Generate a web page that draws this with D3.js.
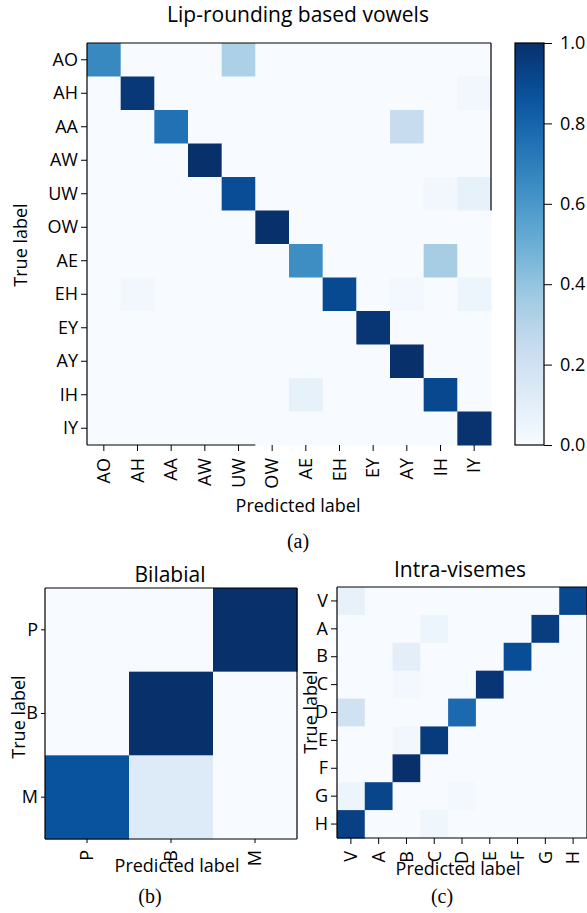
<!DOCTYPE html>
<html>
<head>
<meta charset="utf-8">
<script src="https://cdn.jsdelivr.net/npm/d3@7"></script>
<style>
  body { margin: 0; background: #fff; }
  text { font-family: "Open Sans", sans-serif; fill: #000; }
  .cap { font-family: "Liberation Serif", serif; }
</style>
</head>
<body>
<svg id="fig" width="587" height="913"></svg>
<script>
// ---- data ----
const vowelLabels = ["AO", "AH", "AA", "AW", "UW", "OW", "AE", "EH", "EY", "AY", "IH", "IY"];
// rows = true label, columns = predicted label
const vowelMatrix = [
  [0.66, 0, 0, 0, 0.33, 0, 0, 0, 0, 0, 0, 0],
  [0, 0.97, 0, 0, 0, 0, 0, 0, 0, 0, 0, 0.03],
  [0, 0, 0.75, 0, 0, 0, 0, 0, 0, 0.24, 0, 0],
  [0, 0, 0, 1.0, 0, 0, 0, 0, 0, 0, 0, 0],
  [0, 0, 0, 0, 0.89, 0, 0, 0, 0, 0, 0.03, 0.08],
  [0, 0, 0, 0, 0, 1.0, 0, 0, 0, 0, 0, 0],
  [0, 0, 0, 0, 0, 0, 0.64, 0, 0, 0, 0.35, 0],
  [0, 0.03, 0, 0, 0, 0, 0, 0.9, 0, 0.02, 0, 0.05],
  [0, 0, 0, 0, 0, 0, 0, 0, 0.98, 0, 0, 0],
  [0, 0, 0, 0, 0, 0, 0, 0, 0, 1.0, 0, 0],
  [0, 0, 0, 0, 0, 0, 0.08, 0, 0, 0, 0.91, 0],
  [0, 0, 0, 0, 0, 0, 0, 0, 0, 0, 0, 0.99]
];

const bilabialLabels = ["P", "B", "M"];
const bilabialMatrix = [
  [0, 0, 1.0],
  [0, 1.0, 0],
  [0.87, 0.13, 0]
];

const visemeLabels = ["V", "A", "B", "C", "D", "E", "F", "G", "H"];
const visemeMatrix = [
  [0.08, 0, 0, 0, 0, 0, 0, 0, 0.91],
  [0, 0, 0, 0.05, 0, 0, 0, 0.95, 0],
  [0, 0, 0.1, 0, 0, 0, 0.89, 0, 0],
  [0, 0, 0.02, 0, 0, 0.98, 0, 0, 0],
  [0.2, 0, 0, 0, 0.78, 0, 0, 0, 0],
  [0, 0, 0.03, 0.96, 0, 0, 0, 0, 0],
  [0, 0, 1.0, 0, 0, 0, 0, 0, 0],
  [0.05, 0.92, 0, 0, 0.02, 0, 0, 0, 0],
  [0.94, 0, 0, 0.04, 0, 0, 0, 0, 0]
];

const colorTicks = [0, 0.2, 0.4, 0.6, 0.8, 1.0];

// matplotlib "Blues" is the same ColorBrewer ramp, linearly interpolated
const color = d3.scaleLinear()
  .domain(d3.range(9).map(i => i / 8))
  .range(d3.schemeBlues[9])
  .interpolate(d3.interpolateRgb);

const svg = d3.select("#fig");
svg.append("rect").attr("width", 587).attr("height", 913).attr("fill", "#fff");

function heatmap(labels, matrix, o) {
  const g = svg.append("g");
  const x = d3.scaleBand().domain(labels).range(o.xr);
  const y = d3.scaleBand().domain(labels).range(o.yr);

  const cells = [];
  matrix.forEach((row, i) => row.forEach((v, j) => cells.push({ r: labels[i], c: labels[j], v: v })));

  g.selectAll("rect.cell")
    .data(cells)
    .enter().append("rect")
    .attr("class", "cell")
    .attr("x", d => x(d.c))
    .attr("y", d => y(d.r))
    .attr("width", x.bandwidth() + 0.5)
    .attr("height", y.bandwidth() + 0.5)
    .attr("fill", d => color(d.v));

  // frame (the top plot's frame is only partly drawn in the source figure)
  const fr = o.frame || {};
  const x0 = o.xr[0], x1 = o.xr[1], y0 = o.yr[0], y1 = o.yr[1];
  const frame = g.append("g").attr("stroke", "#000").attr("stroke-width", 1.2).attr("fill", "none");
  frame.append("line").attr("x1", x0).attr("x2", x1).attr("y1", y0).attr("y2", y0);
  frame.append("line").attr("x1", x0).attr("x2", x0).attr("y1", y0).attr("y2", y1);
  frame.append("line").attr("x1", x0).attr("x2", fr.bottomTo || x1).attr("y1", y1).attr("y2", y1);
  frame.append("line").attr("x1", x1).attr("x2", x1).attr("y1", y0).attr("y2", fr.rightTo || y1);

  const ya = g.append("g")
    .attr("transform", `translate(${o.xr[0]},0)`)
    .call(d3.axisLeft(y).tickSize(o.tick).tickPadding(3))
    .attr("font-size", o.tickFont);
  ya.select(".domain").remove();
  ya.selectAll("text").style("font-family", "'Open Sans', sans-serif");

  const xa = g.append("g")
    .attr("transform", `translate(0,${o.yr[1]})`)
    .call(d3.axisBottom(x).tickSize(o.tick))
    .attr("font-size", o.tickFont);
  xa.select(".domain").remove();
  xa.selectAll("text")
    .style("font-family", "'Open Sans', sans-serif")
    .attr("transform", "rotate(-90)")
    .attr("text-anchor", "end")
    .attr("x", -(o.tick + 7))
    .attr("y", 0)
    .attr("dy", "0.35em");

  g.append("text")
    .attr("x", (o.xr[0] + o.xr[1]) / 2 + (o.titleDx || 0))
    .attr("y", o.titleY)
    .attr("text-anchor", "middle")
    .attr("font-size", 21)
    .text(o.title);

  g.append("text")
    .attr("x", o.xlab[0])
    .attr("y", o.xlab[1])
    .attr("text-anchor", "middle")
    .attr("font-size", 18)
    .text("Predicted label");

  g.append("text")
    .attr("transform", `translate(${o.ylab[0]},${o.ylab[1]}) rotate(-90)`)
    .attr("text-anchor", "middle")
    .attr("dy", "0.35em")
    .attr("font-size", 18)
    .text("True label");

  g.append("text")
    .attr("class", "cap")
    .attr("x", o.cap[0])
    .attr("y", o.cap[1])
    .attr("text-anchor", "middle")
    .attr("font-size", 20)
    .text(o.capText);

  return { x: x, y: y };
}

// (a) vowels
const sx = d3.scaleBand().domain(vowelLabels).range([87, 491]);
const sy = d3.scaleBand().domain(vowelLabels).range([43, 445]);
heatmap(vowelLabels, vowelMatrix, {
  xr: [87, 491], yr: [43, 445], tick: 6, tickFont: 18,
  title: "Lip-rounding based vowels", titleY: 22, titleDx: 9,
  xlab: [298, 512], ylab: [21, 245], cap: [298, 548], capText: "(a)",
  frame: { rightTo: sy("OW"), bottomTo: sx("OW") }
});

// colorbar
const cb = { x: 515, w: 29, y0: 43, y1: 445 };
const grad = svg.append("defs").append("linearGradient")
  .attr("id", "cbgrad").attr("x1", 0).attr("x2", 0).attr("y1", 1).attr("y2", 0);
grad.selectAll("stop")
  .data(d3.range(0, 1.0001, 0.05))
  .enter().append("stop")
  .attr("offset", d => d)
  .attr("stop-color", d => color(d));
svg.append("rect")
  .attr("x", cb.x).attr("y", cb.y0)
  .attr("width", cb.w).attr("height", cb.y1 - cb.y0)
  .attr("fill", "url(#cbgrad)")
  .attr("stroke", "#000").attr("stroke-width", 1.2);
const cs = d3.scaleLinear().domain([0, 1]).range([cb.y1, cb.y0]);
const ca = svg.append("g")
  .attr("transform", `translate(${cb.x + cb.w},0)`)
  .call(d3.axisRight(cs).tickValues(colorTicks).tickFormat(d3.format(".1f")).tickSize(8).tickPadding(8))
  .attr("font-size", 18);
ca.select(".domain").remove();
ca.selectAll("text").style("font-family", "'Open Sans', sans-serif");

// (b) bilabial
heatmap(bilabialLabels, bilabialMatrix, {
  xr: [45, 297], yr: [588, 839], tick: 4, tickFont: 18,
  title: "Bilabial", titleY: 582, titleDx: -1,
  xlab: [177, 872], ylab: [19, 717], cap: [150, 903], capText: "(b)"
});

// (c) intra-visemes
heatmap(visemeLabels, visemeMatrix, {
  xr: [337, 587], yr: [587, 838], tick: 6, tickFont: 18,
  title: "Intra-visemes", titleY: 577, titleDx: -2,
  xlab: [458, 875], ylab: [311, 712], cap: [442, 903], capText: "(c)"
});
</script>
</body>
</html>
